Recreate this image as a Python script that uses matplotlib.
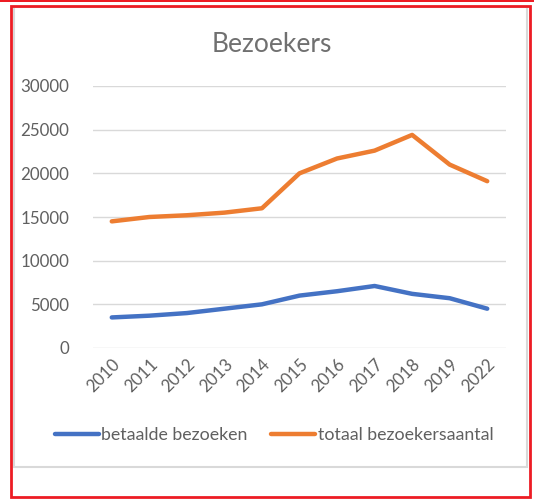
import matplotlib.pyplot as plt
import matplotlib.patches as patches

years = ['2010', '2011', '2012', '2013', '2014', '2015', '2016', '2017', '2018', '2019', '2022']
betaald = [3500, 3700, 4000, 4500, 5000, 6000, 6500, 7100, 6200, 5700, 4500]
totaal = [14500, 15000, 15200, 15500, 16000, 20000, 21700, 22600, 24400, 21000, 19100]
yticks = [0, 5000, 10000, 15000, 20000, 25000, 30000]

plt.rcParams['font.family'] = ['Lato', 'DejaVu Sans']
text_col = '#606060'
W, H = 534, 500

fig = plt.figure(figsize=(W / 100, H / 100), dpi=100)
ax = fig.add_axes([93 / W, 1 - 348 / H, (506 - 93) / W, (348 - 86) / H])

x = list(range(len(years)))
ax.plot(x, betaald, color='#4472C4', lw=3.2, solid_capstyle='round', label='betaalde bezoeken')
ax.plot(x, totaal, color='#ED7D31', lw=3.2, solid_capstyle='round', label='totaal bezoekersaantal')

ax.set_xlim(-0.5, len(years) - 0.5)
ax.set_ylim(0, 30000)
ax.set_yticks(yticks)
ax.set_yticklabels([str(v) for v in yticks])
ax.set_xticks(x)
ax.set_xticklabels(years, rotation=45, ha='right', rotation_mode='anchor')
ax.grid(axis='y', color='#D9D9D9', lw=1)
ax.set_axisbelow(True)
for s in ax.spines.values():
    s.set_visible(False)
ax.tick_params(length=0, labelsize=12.2, labelcolor=text_col)
ax.tick_params(axis='y', pad=17)
ax.tick_params(axis='x', pad=6)

fig.text(272 / W, 1 - 44 / H, 'Bezoekers', ha='center', va='center', fontsize=19, color='#707070')

fig.legend(loc='center', bbox_to_anchor=(274 / W, 1 - 435 / H), ncol=2, frameon=False,
           fontsize=12.8, labelcolor=text_col, handlelength=2.5, handletextpad=0.12,
           columnspacing=1.3)

# chart area border (light gray)
fig.patches.append(patches.Rectangle((14 / W, 1 - 467 / H), (527 - 14) / W, (467 - 7) / H,
                                     transform=fig.transFigure, fill=False,
                                     edgecolor='#D9D9D9', lw=1.5))
# red frame
fig.patches.append(patches.Rectangle((11 / W, 1 - 497 / H), (530 - 11) / W, (497 - 6) / H,
                                     transform=fig.transFigure, fill=False,
                                     edgecolor='#ED1C24', lw=2))
fig.patches.append(patches.Rectangle((0, 1 - 2 / H), 1, 2 / H, transform=fig.transFigure,
                                     facecolor='#ED1C24', edgecolor='none'))

fig.savefig('out.png', dpi=100)
